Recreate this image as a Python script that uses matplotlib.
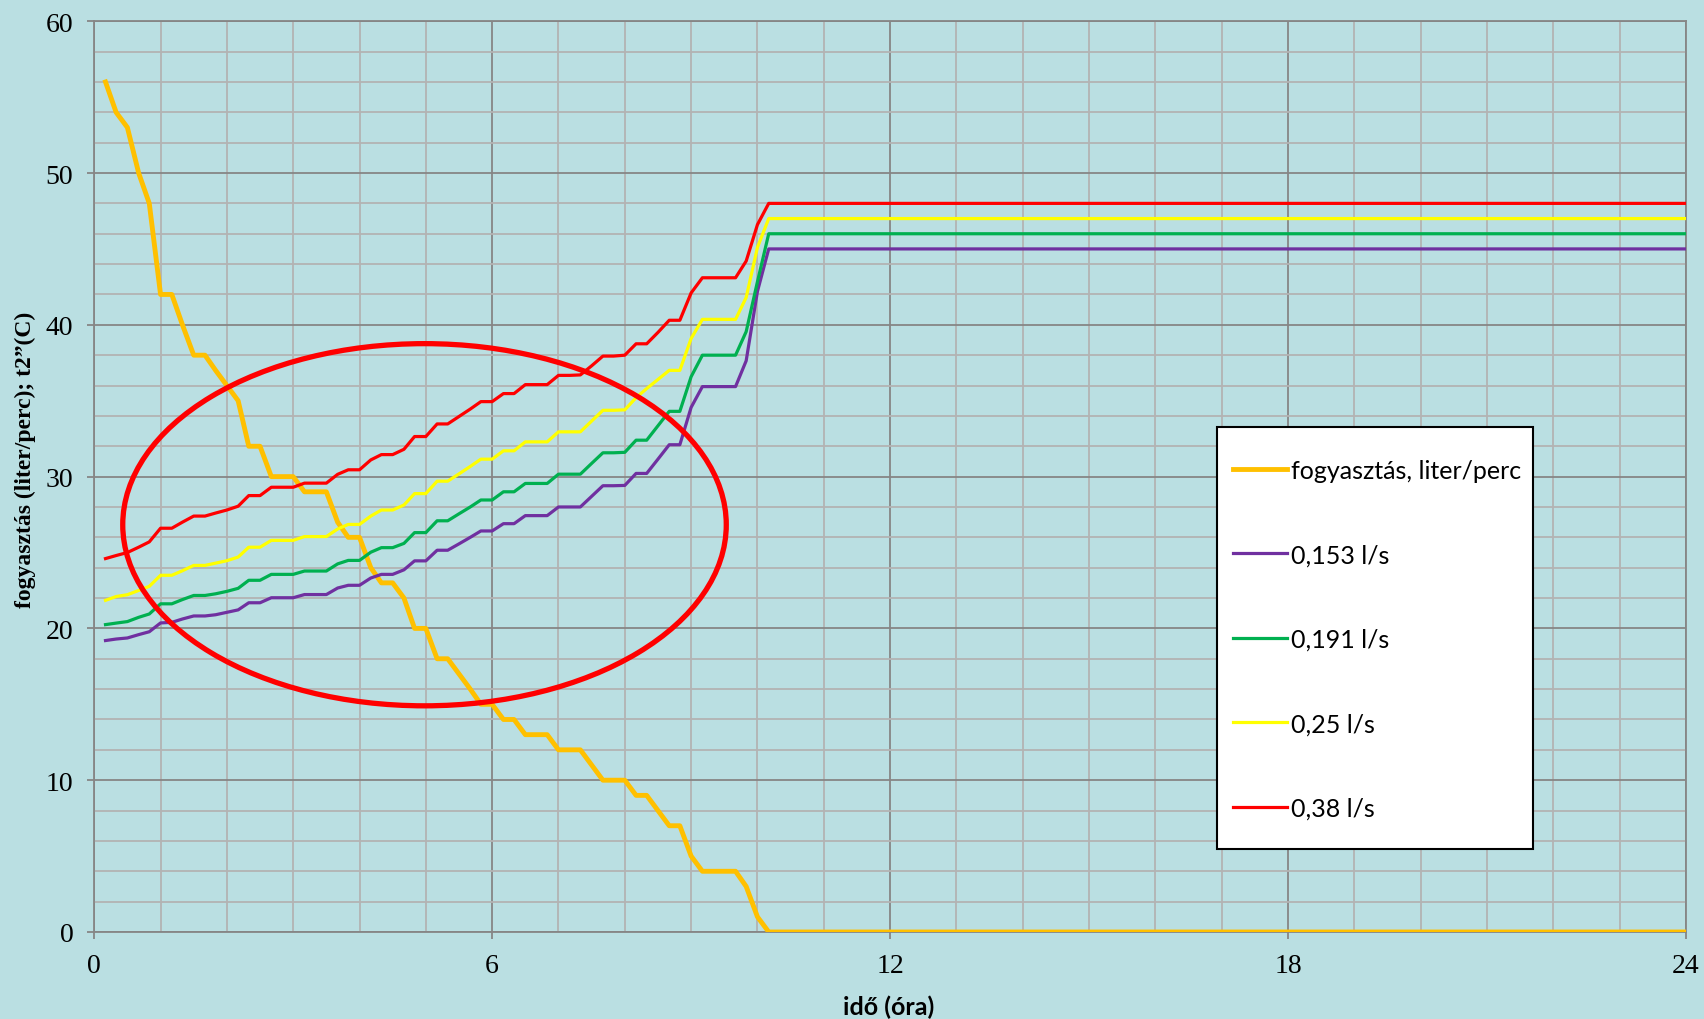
import matplotlib
matplotlib.use('Agg')
import matplotlib.pyplot as plt
from matplotlib.patches import Ellipse, Rectangle
from matplotlib.ticker import MultipleLocator

# time in hours, 10-minute steps up to 10:10, then last point at 24 h
ido = [0.17, 0.33, 0.5, 0.67, 0.83, 1.0, 1.17, 1.33, 1.5, 1.67, 1.83, 2.0,
       2.17, 2.33, 2.5, 2.67, 2.83, 3.0, 3.17, 3.33, 3.5, 3.67, 3.83, 4.0,
       4.17, 4.33, 4.5, 4.67, 4.83, 5.0, 5.17, 5.33, 5.5, 5.67, 5.83, 6.0,
       6.17, 6.33, 6.5, 6.67, 6.83, 7.0, 7.17, 7.33, 7.5, 7.67, 7.83, 8.0,
       8.17, 8.33, 8.5, 8.67, 8.83, 9.0, 9.17, 9.33, 9.5, 9.67, 9.83, 10.0,
       10.17, 24.0]

fogyasztas = [56, 54, 53, 50, 48, 42, 42, 40, 38, 38, 37, 36,
              35, 32, 32, 30, 30, 30, 29, 29, 29, 27, 26, 26,
              24, 23, 23, 22, 20, 20, 18, 18, 17, 16, 15, 15,
              14, 14, 13, 13, 13, 12, 12, 12, 11, 10, 10, 10,
              9, 9, 8, 7, 7, 5, 4, 4, 4, 4, 3, 1,
              0, 0]

t_0153 = [19.2, 19.3, 19.37, 19.59, 19.78, 20.36, 20.4, 20.62, 20.82, 20.82, 20.9, 21.06,
          21.22, 21.69, 21.69, 22.02, 22.02, 22.02, 22.23, 22.23, 22.23, 22.66, 22.84, 22.84,
          23.32, 23.56, 23.56, 23.86, 24.45, 24.45, 25.15, 25.15, 25.57, 26.0, 26.42, 26.42,
          26.9, 26.9, 27.43, 27.43, 27.43, 28.0, 28.0, 28.0, 28.7, 29.4, 29.4, 29.42,
          30.21, 30.21, 31.15, 32.1, 32.1, 34.56, 35.93, 35.93, 35.93, 35.93, 37.63, 42.2,
          45.0, 45.0]

t_0191 = [20.25, 20.35, 20.45, 20.73, 20.95, 21.62, 21.62, 21.9, 22.17, 22.17, 22.28, 22.44,
          22.64, 23.17, 23.17, 23.56, 23.56, 23.56, 23.78, 23.78, 23.78, 24.25, 24.48, 24.48,
          25.02, 25.32, 25.32, 25.6, 26.31, 26.31, 27.09, 27.09, 27.55, 28.0, 28.46, 28.46,
          29.0, 29.0, 29.55, 29.55, 29.55, 30.16, 30.16, 30.16, 30.87, 31.57, 31.57, 31.6,
          32.4, 32.4, 33.35, 34.3, 34.3, 36.58, 38.0, 38.0, 38.0, 38.0, 39.55, 42.84,
          46.0, 46.0]

t_025 = [21.85, 22.1, 22.22, 22.5, 22.77, 23.5, 23.5, 23.8, 24.15, 24.15, 24.3, 24.46,
         24.7, 25.35, 25.35, 25.8, 25.8, 25.8, 26.05, 26.05, 26.05, 26.55, 26.85, 26.85,
         27.4, 27.8, 27.8, 28.13, 28.88, 28.88, 29.7, 29.7, 30.18, 30.67, 31.15, 31.15,
         31.7, 31.7, 32.29, 32.29, 32.29, 32.95, 32.95, 32.95, 33.66, 34.37, 34.37, 34.4,
         35.2, 35.8, 36.4, 37.0, 37.0, 39.1, 40.36, 40.36, 40.36, 40.36, 41.8, 45.1,
         47.0, 47.0]

t_038 = [24.6, 24.8, 25.0, 25.35, 25.7, 26.6, 26.6, 27.0, 27.4, 27.4, 27.6, 27.8,
         28.05, 28.75, 28.75, 29.3, 29.3, 29.3, 29.57, 29.57, 29.57, 30.15, 30.45, 30.45,
         31.1, 31.45, 31.45, 31.8, 32.64, 32.64, 33.47, 33.47, 33.96, 34.45, 34.94, 34.94,
         35.47, 35.47, 36.06, 36.06, 36.06, 36.67, 36.67, 36.7, 37.3, 37.94, 37.94, 38.0,
         38.75, 38.75, 39.5, 40.3, 40.3, 42.1, 43.1, 43.1, 43.1, 43.1, 44.2, 46.6,
         48.0, 48.0]

bg = '#BADFE2'
minor_c = '#B3B3B3'
major_c = '#868686'

fig = plt.figure(figsize=(17.04, 10.2), dpi=100, facecolor=bg)
ax = fig.add_axes([0.0553, 0.0853, 0.9341, 0.8929])
ax.set_facecolor(bg)

ax.plot(ido, fogyasztas, color='#FFC000', lw=3.5, label='fogyasztás, liter/perc', zorder=4)
ax.plot(ido, t_0153, color='#7030A0', lw=2.3, label='0,153 l/s', zorder=4)
ax.plot(ido, t_0191, color='#00B050', lw=2.3, label='0,191 l/s', zorder=4)
ax.plot(ido, t_025, color='#FFFF00', lw=2.3, label='0,25 l/s', zorder=4)
ax.plot(ido, t_038, color='#FF0000', lw=2.3, label='0,38 l/s', zorder=4)

# highlight ellipse
ax.add_patch(Ellipse((4.98, 26.83), 9.1, 23.86, fill=False, edgecolor='#FF0000',
                     lw=3.8, zorder=5))

ax.set_xlim(0, 24)
ax.set_ylim(0, 60)
ax.xaxis.set_major_locator(MultipleLocator(6))
ax.xaxis.set_minor_locator(MultipleLocator(1))
ax.yaxis.set_major_locator(MultipleLocator(10))
ax.yaxis.set_minor_locator(MultipleLocator(2))
ax.grid(which='minor', color=minor_c, lw=1.3, zorder=1)
ax.grid(which='major', color=major_c, lw=1.3, zorder=2)
ax.set_axisbelow(True)
for s in ax.spines.values():
    s.set_color(major_c)
    s.set_linewidth(1.3)

ax.tick_params(which='major', direction='out', length=5, width=1.3, color=major_c,
               labelsize=20, pad=10)
ax.tick_params(which='minor', length=0)
for lab in ax.get_xticklabels() + ax.get_yticklabels():
    lab.set_fontfamily('Liberation Serif')

fig.text(0.0147, 0.549, 'fogyasztás (liter/perc); t2”(C)', rotation=90, ha='center',
         va='center', fontsize=17, fontweight='bold', family='Liberation Serif')
fig.text(0.5216, 0.0127, 'idő (óra)', ha='center', va='center', fontsize=18,
         fontweight='bold', family='Lato')

# legend box drawn separately, entries placed inside it
ax.add_patch(Rectangle((0.7055, 0.0911), 0.1985, 0.4634, transform=ax.transAxes,
                       facecolor='white', edgecolor='black', lw=1.5, zorder=6))
leg = ax.legend(loc='upper left', bbox_to_anchor=(0.7155, 0.5198),
                prop={'family': 'Lato', 'size': 18}, frameon=False,
                handlelength=2.15, handletextpad=0.15, labelspacing=2.46, borderpad=0,
                borderaxespad=0)
leg.set_zorder(7)

fig.savefig('out.png', dpi=100, facecolor=bg)
